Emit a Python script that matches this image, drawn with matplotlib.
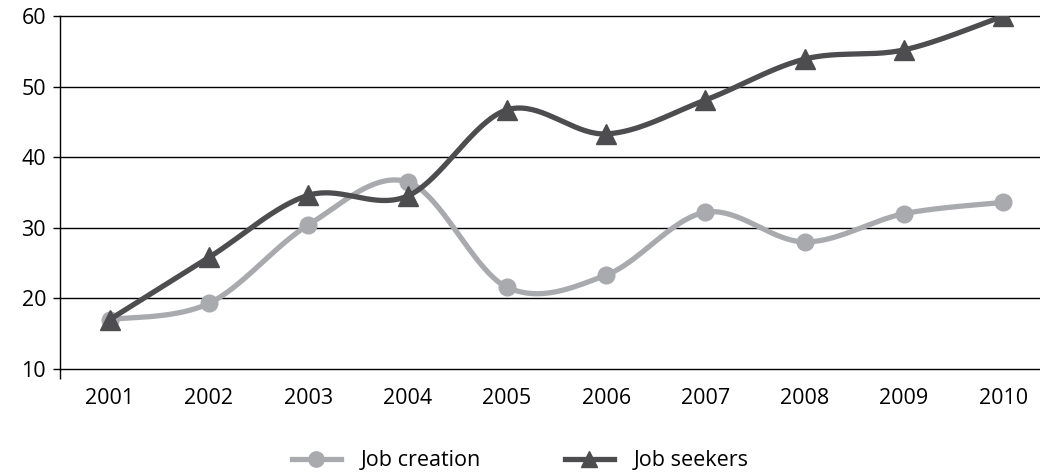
import numpy as np
import matplotlib
matplotlib.use("Agg")
import matplotlib.pyplot as plt
from matplotlib.lines import Line2D

years = ["2001", "2002", "2003", "2004", "2005", "2006", "2007", "2008", "2009", "2010"]
job_creation = [17.0, 19.3, 30.4, 36.5, 21.6, 23.3, 32.2, 28.0, 32.0, 33.6]
job_seekers = [17.0, 25.8, 34.6, 34.5, 46.7, 43.3, 48.1, 53.9, 55.2, 60.0]
y_ticks = [10, 20, 30, 40, 50, 60]


def smooth(xs, ys, n=40):
    """Excel-like Bezier smoothing through the points."""
    xs = np.asarray(xs, float)
    ys = np.asarray(ys, float)
    px, py = [], []
    m = len(xs)
    for i in range(m - 1):
        x0, y0 = (xs[i - 1], ys[i - 1]) if i > 0 else (xs[i], ys[i])
        x1, y1 = xs[i], ys[i]
        x2, y2 = xs[i + 1], ys[i + 1]
        x3, y3 = (xs[i + 2], ys[i + 2]) if i + 2 < m else (xs[i + 1], ys[i + 1])
        c1x, c1y = x1 + (x2 - x0) / 6, y1 + (y2 - y0) / 6
        c2x, c2y = x2 - (x3 - x1) / 6, y2 - (y3 - y1) / 6
        t = np.linspace(0, 1, n)
        bx = (1 - t) ** 3 * x1 + 3 * (1 - t) ** 2 * t * c1x + 3 * (1 - t) * t ** 2 * c2x + t ** 3 * x2
        by = (1 - t) ** 3 * y1 + 3 * (1 - t) ** 2 * t * c1y + 3 * (1 - t) * t ** 2 * c2y + t ** 3 * y2
        px.extend(bx)
        py.extend(by)
    return np.array(px), np.array(py)


plt.rcParams['font.family'] = ['Open Sans', 'DejaVu Sans']

light = '#a9aaad'
dark = '#4d4d4f'
fs = 15.5

fig = plt.figure(figsize=(10.40, 4.75), dpi=100)
ax = fig.add_axes([60 / 1040, 1 - 369 / 475, (1053 - 60) / 1040, (369 - 16) / 475])

x = np.arange(len(years))
sx, sy = smooth(x, job_creation)
ax.plot(sx, sy, color=light, lw=3.8, solid_capstyle='round', zorder=3)
ax.plot(x, job_creation, 'o', color=light, ms=12, zorder=4)

sx2, sy2 = smooth(x, job_seekers)
ax.plot(sx2, sy2, color=dark, lw=3.8, solid_capstyle='round', zorder=5)
ax.plot(x, job_seekers, '^', color=dark, ms=14, zorder=6)

ax.set_xlim(-0.5, len(years) - 0.5)
ax.set_ylim(10, 60)
ax.set_yticks(y_ticks)
ax.set_yticklabels([str(v) for v in y_ticks], fontsize=fs)
ax.set_xticks(x)
ax.set_xticklabels(years, fontsize=fs)
ax.tick_params(axis='x', length=0, pad=14)
ax.tick_params(axis='y', length=5, width=1, direction='out', pad=5)
ax.set_xticks([-0.5], minor=True)
ax.tick_params(axis='x', which='minor', length=7, width=1, direction='out')

for v in y_ticks:
    ax.axhline(v, color='black', lw=1.0, zorder=1, clip_on=False)
for s in ['top', 'right', 'bottom']:
    ax.spines[s].set_visible(False)
ax.spines['left'].set_linewidth(1.0)

handles = [
    Line2D([], [], color=light, lw=3.8, marker='o', ms=11),
    Line2D([], [], color=dark, lw=3.8, marker='^', ms=12),
]
fig.legend(handles, ['Job creation', 'Job seekers'], loc='center', bbox_to_anchor=(520 / 1040, 1 - 461 / 475),
           ncol=2, frameon=False, fontsize=fs, handlelength=2.3, columnspacing=3.9, handletextpad=0.9)

fig.savefig('out.png', dpi=100)
